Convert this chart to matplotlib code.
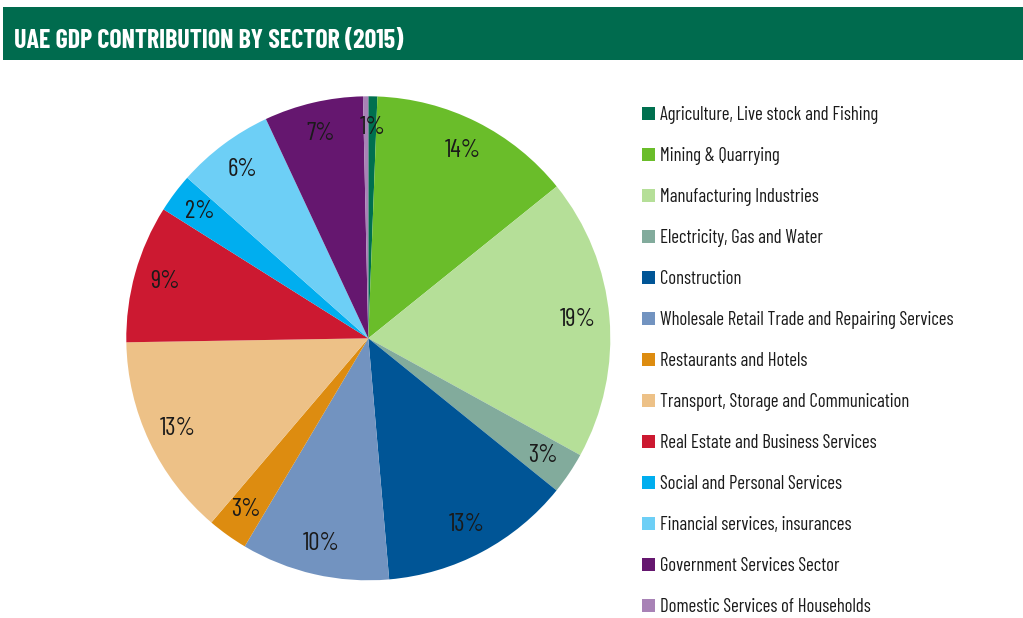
import matplotlib
matplotlib.use("Agg")
import matplotlib.pyplot as plt
from matplotlib.patches import Rectangle

BODY = ['Barlow Condensed', 'DejaVu Sans']
TITLE = ['Barlow Condensed', 'DejaVu Sans']
plt.rcParams['font.family'] = BODY

title = "UAE GDP CONTRIBUTION BY SECTOR (2015)"
sectors = [
    "Agriculture, Live stock and Fishing",
    "Mining & Quarrying",
    "Manufacturing Industries",
    "Electricity, Gas and Water",
    "Construction",
    "Wholesale Retail Trade and Repairing Services",
    "Restaurants and Hotels",
    "Transport, Storage and Communication",
    "Real Estate and Business Services",
    "Social and Personal Services",
    "Financial services, insurances",
    "Government Services Sector",
    "Domestic Services of Households",
]
shares = [0.6, 13.6, 18.8, 2.8, 12.8, 9.9, 2.7, 13.5, 9.2, 2.6, 6.5, 6.6, 0.35]
pct_labels = ["1%", "14%", "19%", "3%", "13%", "10%", "3%", "13%", "9%", "2%", "6%", "7%", ""]
colors = ["#00704F", "#6ABD2A", "#B5DF98", "#82AB9C", "#005596", "#7293C0",
          "#DD8C10", "#EDC187", "#CC1931", "#00AEEF", "#6DCFF6", "#65176F", "#A882B6"]

W, H = 1023, 618
fig = plt.figure(figsize=(W / 100, H / 100), dpi=100)
fig.patch.set_facecolor("white")

# header banner
fig.patches.append(Rectangle((3 / W, 1 - 60 / H), 1 - 3 / W, 53 / H,
                             transform=fig.transFigure, facecolor="#006B4E",
                             edgecolor="none", zorder=0))
fig.text(14 / W, 1 - 48 / H, title, color="white", fontsize=18.7, fontweight="bold",
         va="baseline", ha="left", family=TITLE)

# pie
cx, cy, r = 368.3, 338.3, 242
ax = fig.add_axes([(cx - r) / W, (H - cy - r) / H, 2 * r / W, 2 * r / H])
wedges, texts = ax.pie(shares, labels=pct_labels, colors=colors, startangle=90,
                       counterclock=False, labeldistance=0.87,
                       wedgeprops=dict(linewidth=0),
                       textprops=dict(fontsize=18, color="#1a1a1a"))
for t in texts:
    t.set_ha("center")
    t.set_va("center")
ax.set_xlim(-1, 1)
ax.set_ylim(-1, 1)
ax.set_aspect("equal")
ax.axis("off")

# legend
fs = 13.5
hs = 13 / (fs * 100 / 72)
leg = fig.legend(wedges, sectors, loc="upper left",
                 bbox_to_anchor=(642 / W, 1 - 106 / H), frameon=False,
                 fontsize=fs, borderaxespad=0, borderpad=0,
                 handlelength=hs, handleheight=hs,
                 handletextpad=0.27, labelspacing=1.225, labelcolor="#1a1a1a")

fig.savefig("out.png", dpi=100, facecolor="white")
